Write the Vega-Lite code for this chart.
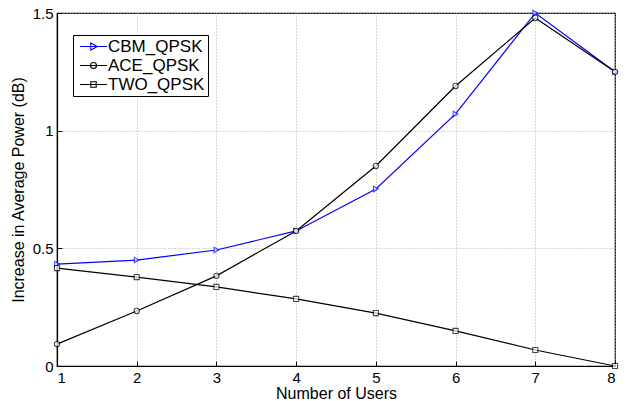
{
  "$schema": "https://vega.github.io/schema/vega-lite/v6.json",
  "width": 558,
  "height": 353,
  "autosize": {"type": "none"},
  "padding": {"left": 57, "top": 13, "right": 12, "bottom": 35},
  "background": "white",
  "config": {
    "font": "Liberation Sans",
    "view": {"stroke": "black", "strokeWidth": 1.2},
    "axis": {
      "domainColor": "black",
      "domainWidth": 1.2,
      "tickColor": "black",
      "tickSize": -5,
      "labelColor": "black",
      "labelFontSize": 15,
      "titleColor": "black",
      "titleFontSize": 16,
      "titleFontWeight": "normal",
      "gridColor": "#b0b0b0",
      "gridDash": [1, 2],
      "gridWidth": 1
    }
  },
  "data": {
    "values": [
      {"users": 1, "power": 0.433, "series": "CBM_QPSK"},
      {"users": 2, "power": 0.45, "series": "CBM_QPSK"},
      {"users": 3, "power": 0.493, "series": "CBM_QPSK"},
      {"users": 4, "power": 0.574, "series": "CBM_QPSK"},
      {"users": 5, "power": 0.752, "series": "CBM_QPSK"},
      {"users": 6, "power": 1.071, "series": "CBM_QPSK"},
      {"users": 7, "power": 1.5, "series": "CBM_QPSK"},
      {"users": 8, "power": 1.25, "series": "CBM_QPSK"},
      {"users": 1, "power": 0.093, "series": "ACE_QPSK"},
      {"users": 2, "power": 0.234, "series": "ACE_QPSK"},
      {"users": 3, "power": 0.383, "series": "ACE_QPSK"},
      {"users": 4, "power": 0.574, "series": "ACE_QPSK"},
      {"users": 5, "power": 0.85, "series": "ACE_QPSK"},
      {"users": 6, "power": 1.19, "series": "ACE_QPSK"},
      {"users": 7, "power": 1.479, "series": "ACE_QPSK"},
      {"users": 8, "power": 1.25, "series": "ACE_QPSK"},
      {"users": 1, "power": 0.416, "series": "TWO_QPSK"},
      {"users": 2, "power": 0.378, "series": "TWO_QPSK"},
      {"users": 3, "power": 0.336, "series": "TWO_QPSK"},
      {"users": 4, "power": 0.285, "series": "TWO_QPSK"},
      {"users": 5, "power": 0.225, "series": "TWO_QPSK"},
      {"users": 6, "power": 0.149, "series": "TWO_QPSK"},
      {"users": 7, "power": 0.068, "series": "TWO_QPSK"},
      {"users": 8, "power": 0.0, "series": "TWO_QPSK"}
    ]
  },
  "encoding": {
    "x": {
      "field": "users", "type": "quantitative",
      "scale": {"domain": [1, 8], "nice": false},
      "axis": {"title": "Number of Users", "values": [1,2,3,4,5,6,7,8], "titlePadding": 0, "labelPadding": 9}
    },
    "y": {
      "field": "power", "type": "quantitative",
      "scale": {"domain": [0, 1.5], "nice": false},
      "axis": {"title": "Increase in Average Power (dB)", "values": [0, 0.5, 1, 1.5], "format": "~g", "titlePadding": 6, "labelPadding": 9}
    }
  },
  "layer": [
    {
      "mark": {"type": "line", "strokeWidth": 1.2, "clip": false},
      "encoding": {
        "color": {
          "field": "series", "type": "nominal",
          "scale": {"domain": ["CBM_QPSK", "ACE_QPSK", "TWO_QPSK"], "range": ["#0000ff", "black", "black"]},
          "legend": {
            "title": null, "orient": "none", "legendX": 16, "legendY": 22,
            "strokeColor": "black", "fillColor": "white", "padding": 3,
            "labelFontSize": 17, "labelColor": "black", "rowPadding": 1,
            "symbolStrokeWidth": 1.1, "symbolSize": 36, "symbolOffset": 9, "labelOffset": 6,
            "encode": {
              "symbols": {
                "update": {
                  "shape": {"signal": "datum.value == 'CBM_QPSK' ? 'M-4.5,0H4.5M-0.9,-1.2L1.3,0L-0.9,1.2Z' : datum.value == 'ACE_QPSK' ? 'M-4.5,0H4.5M1,0A1,1 0 1,1 -1,0A1,1 0 1,1 1,0Z' : 'M-4.5,0H4.5M-0.9,-0.9H0.9V0.9H-0.9Z'"},
                  "fill": {"value": "transparent"}
                }
              }
            }
          }
        }
      }
    },
    {
      "transform": [{"filter": "datum.series == 'CBM_QPSK'"}],
      "mark": {"type": "point", "shape": "triangle-right", "filled": false, "fill": "white", "color": "#0000ff", "strokeWidth": 1.1, "size": 30, "clip": false}
    },
    {
      "transform": [{"filter": "datum.series == 'ACE_QPSK'"}],
      "mark": {"type": "point", "shape": "circle", "filled": false, "fill": "white", "color": "black", "strokeWidth": 1.1, "size": 28, "clip": false}
    },
    {
      "transform": [{"filter": "datum.series == 'TWO_QPSK'"}],
      "mark": {"type": "point", "shape": "square", "filled": false, "fill": "white", "color": "black", "strokeWidth": 1.1, "size": 26, "clip": false}
    }
  ]
}
